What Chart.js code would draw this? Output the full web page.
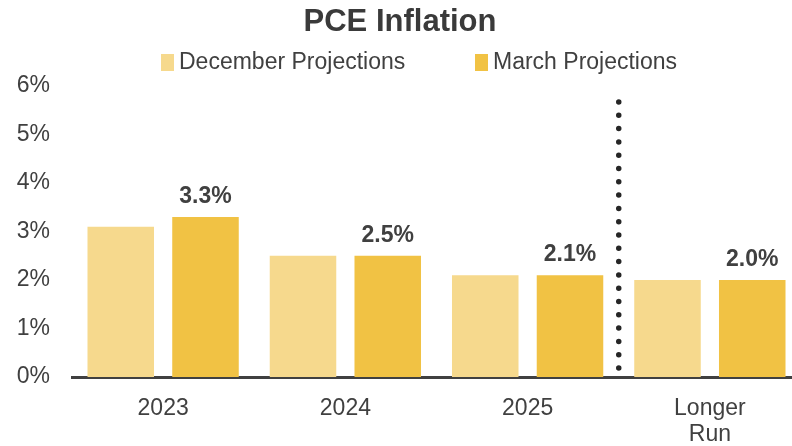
<!DOCTYPE html>
<html>
<head>
<meta charset="utf-8">
<script src="https://cdn.jsdelivr.net/npm/chart.js@4.4.1/dist/chart.umd.min.js"></script>
<style>
  html, body { margin: 0; background: #fff; overflow: hidden; }
  #wrap { width: 792px; height: 446px; overflow: hidden; }
</style>
</head>
<body>
<div id="wrap"><canvas id="pceChart" width="801" height="446"></canvas></div>
<script>
// chart values
const categories = ['2023', '2024', '2025', ['Longer', 'Run']];
const decemberProj = [3.1, 2.5, 2.1, 2.0];
const marchProj = [3.3, 2.5, 2.1, 2.0];
const yTicks = [0, 1, 2, 3, 4, 5, 6];
const seriesNames = ['December Projections', 'March Projections'];
const seriesColors = ['#F6D98D', '#F1C244'];

const textColor = '#404040';
const fontFam = '"Liberation Sans", Arial, sans-serif';
Chart.defaults.font.family = fontFam;

// title + legend drawn by hand so the spacing matches
const headerBlock = {
    id: 'headerBlock',
    afterDraw(chart) {
        const ctx = chart.ctx;
        ctx.save();
        ctx.fillStyle = '#3a3a3a';
        ctx.font = 'bold 31px ' + fontFam;
        ctx.textAlign = 'center';
        ctx.textBaseline = 'middle';
        ctx.fillText('PCE Inflation', 400, 22);

        ctx.font = '23px ' + fontFam;
        ctx.textAlign = 'left';
        const starts = [161, 475];
        seriesNames.forEach((name, i) => {
            const x = starts[i];
            ctx.fillStyle = seriesColors[i];
            ctx.fillRect(x, 54, 13, 17);
            ctx.fillStyle = textColor;
            ctx.fillText(name, x + 18, 63);
        });
        ctx.restore();
    }
};

// value labels above the March bars
const barLabels = {
    id: 'barLabels',
    afterDatasetsDraw(chart) {
        const ctx = chart.ctx;
        const meta = chart.getDatasetMeta(1);
        ctx.save();
        ctx.font = 'bold 23px ' + fontFam;
        ctx.fillStyle = textColor;
        ctx.textAlign = 'center';
        ctx.textBaseline = 'alphabetic';
        meta.data.forEach((bar, i) => {
            ctx.fillText(marchProj[i].toFixed(1) + '%', bar.x, bar.y - 14);
        });
        ctx.restore();
    }
};

// dotted divider before the longer run bars
const dividerLine = {
    id: 'dividerLine',
    afterDatasetsDraw(chart) {
        const ctx = chart.ctx;
        const xs = chart.scales.x, ys = chart.scales.y;
        const x = (xs.getPixelForValue(2) + xs.getPixelForValue(3)) / 2;
        ctx.save();
        ctx.strokeStyle = '#262626';
        ctx.lineWidth = 5.5;
        ctx.lineCap = 'round';
        ctx.setLineDash([0, 13.3]);
        ctx.beginPath();
        ctx.moveTo(x, ys.getPixelForValue(5.67));
        ctx.lineTo(x, ys.getPixelForValue(0.18));
        ctx.stroke();
        ctx.restore();
    }
};

const ctx = document.getElementById('pceChart').getContext('2d');
const pceChart = new Chart(ctx, {
    type: 'bar',
    data: {
        labels: categories,
        datasets: [{
            label: seriesNames[0],
            data: decemberProj,
            backgroundColor: seriesColors[0],
            categoryPercentage: 0.93,
            barPercentage: 0.785
        }, {
            label: seriesNames[1],
            data: marchProj,
            backgroundColor: seriesColors[1],
            categoryPercentage: 0.93,
            barPercentage: 0.785
        }]
    },
    options: {
        responsive: false,
        animation: false,
        layout: { padding: { top: 86, right: 0, left: 12, bottom: 0 } },
        plugins: {
            title: { display: false },
            legend: { display: false },
            tooltip: { enabled: false }
        },
        scales: {
            x: {
                grid: { display: false, drawTicks: false },
                border: { color: '#404040', width: 3 },
                ticks: { color: textColor, font: { size: 23, lineHeight: 1.15 }, padding: 18 },
                afterFit(axis) { axis.height = 69; }
            },
            y: {
                min: 0,
                max: 6,
                afterBuildTicks(axis) {
                    axis.ticks = yTicks.map(v => ({ value: v }));
                },
                grid: { display: false, drawTicks: false },
                border: { display: false },
                ticks: {
                    color: textColor,
                    font: { size: 23 },
                    padding: 22,
                    callback: v => v + '%'
                },
                afterFit(axis) { axis.width = 60; }
            }
        }
    },
    plugins: [barLabels, dividerLine, headerBlock]
});
</script>
</body>
</html>
